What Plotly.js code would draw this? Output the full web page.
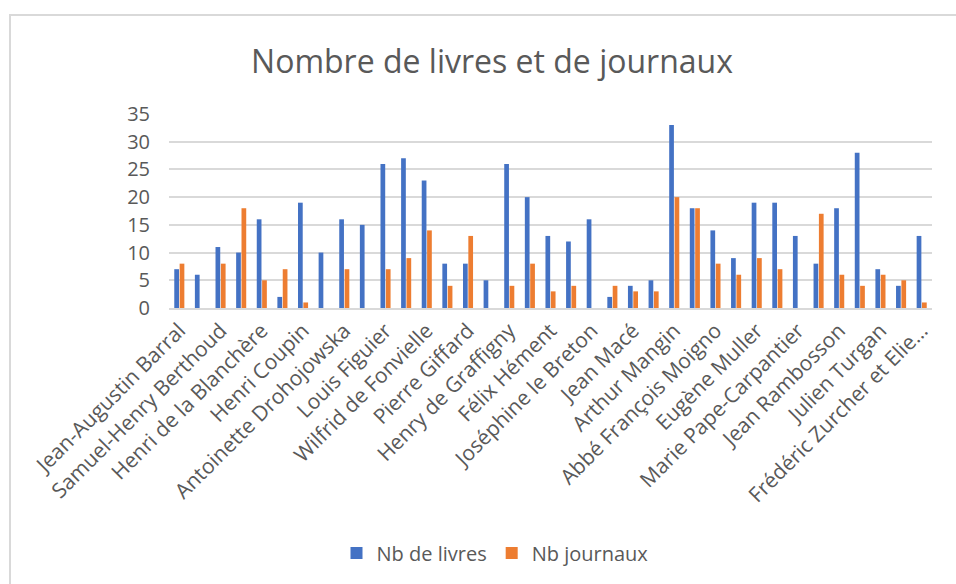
<!DOCTYPE html>
<html>
<head>
<meta charset="utf-8">
<script src="https://cdn.plot.ly/plotly-3.0.1.min.js"></script>
<style>
  html, body { margin: 0; padding: 0; background: #fff; overflow: hidden; }
  #chart { position: absolute; left: 0; top: 0; width: 956px; height: 584px; }
  #frame { position: absolute; left: 9px; top: 14px; width: 1000px; height: 700px;
           border-left: 2px solid #d9d9d9; border-top: 2px solid #d9d9d9; pointer-events: none; }
</style>
</head>
<body>
<div id="chart"></div>
<div id="frame"></div>
<script>
// Categories (every other one is labelled on the axis)
const categories = [
  "Jean-Augustin Barral", "Paul Bert", "Samuel-Henry Berthoud", "Adolphe Bitard",
  "Henri de la Blanchère", "Gaston Bonnier", "Henri Coupin", "Charles Delon",
  "Antoinette Drohojowska", "Jean-Henri Fabre", "Louis Figuier", "Camille Flammarion",
  "Wilfrid de Fonvielle", "Albert Gaudry", "Pierre Giffard", "Louis Gossin",
  "Henry de Graffigny", "Amédée Guillemin", "Félix Hément", "Pierre Larousse",
  "Joséphine le Breton", "Édouard Lucas", "Jean Macé", "Victor Malte-Brun",
  "Arthur Mangin", "Stanislas Meunier", "Abbé François Moigno", "Henri Moissan",
  "Eugène Muller", "Charles Nodier", "Marie Pape-Carpantier", "Henri de Parville",
  "Jean Rambosson", "Gaston Tissandier", "Julien Turgan", "Jules Verne",
  "Frédéric Zurcher et Elie Margollé"
];
const nbLivres = [
  7, 6, 11, 10, 16, 2, 19, 10, 16, 15, 26, 27, 23, 8, 8, 5, 26, 20, 13,
  12, 16, 2, 4, 5, 33, 18, 14, 9, 19, 19, 13, 8, 18, 28, 7, 4, 13
];
const nbJournaux = [
  8, 0, 8, 18, 5, 7, 1, 0, 7, 0, 7, 9, 14, 4, 13, 0, 4, 8, 3,
  4, 0, 4, 3, 3, 20, 18, 8, 6, 9, 7, 0, 17, 6, 4, 6, 5, 1
];
const tickCats = [
  "Jean-Augustin Barral", "Samuel-Henry Berthoud", "Henri de la Blanchère", "Henri Coupin",
  "Antoinette Drohojowska", "Louis Figuier", "Wilfrid de Fonvielle", "Pierre Giffard",
  "Henry de Graffigny", "Félix Hément", "Joséphine le Breton", "Jean Macé",
  "Arthur Mangin", "Abbé François Moigno", "Eugène Muller", "Marie Pape-Carpantier",
  "Jean Rambosson", "Julien Turgan", "Frédéric Zurcher et Elie Margollé"
];
const tickLabels = [
  "Jean-Augustin Barral", "Samuel-Henry Berthoud", "Henri de la Blanchère", "Henri Coupin",
  "Antoinette Drohojowska", "Louis Figuier", "Wilfrid de Fonvielle", "Pierre Giffard",
  "Henry de Graffigny", "Félix Hément", "Joséphine le Breton", "Jean Macé",
  "Arthur Mangin", "Abbé François Moigno", "Eugène Muller", "Marie Pape-Carpantier",
  "Jean Rambosson", "Julien Turgan", "Frédéric Zurcher et Elie…"
];
const yTicks = [0, 5, 10, 15, 20, 25, 30, 35];

const FONT = "'Open Sans', 'Noto Sans', sans-serif";
const GREY = "#595959";

const traces = [
  { type: "bar", name: "Nb de livres", x: categories, y: nbLivres,
    marker: { color: "#4472C4" }, hoverinfo: "x+y+name" },
  { type: "bar", name: "Nb journaux", x: categories, y: nbJournaux,
    marker: { color: "#ED7D31" }, hoverinfo: "x+y+name" }
];

const layout = {
  width: 956, height: 584,
  margin: { l: 169, r: 24, t: 114, b: 276, pad: 0 },
  paper_bgcolor: "rgba(0,0,0,0)",
  plot_bgcolor: "#ffffff",
  font: { family: FONT, color: GREY, size: 20 },
  title: {
    text: "Nombre de livres et de journaux",
    font: { family: FONT, size: 32, color: GREY },
    xref: "container", x: 492 / 956, xanchor: "center",
    yref: "container", y: 1 - 62 / 584, yanchor: "middle"
  },
  barmode: "group",
  bargap: 0.48,
  bargroupgap: 0.12,
  xaxis: {
    type: "category",
    categoryorder: "array", categoryarray: categories,
    tickmode: "array", tickvals: tickCats, ticktext: tickLabels,
    tickangle: -45,
    tickfont: { family: FONT, size: 21, color: GREY },
    showgrid: false, zeroline: false,
    showline: true, linecolor: "#d9d9d9", linewidth: 2,
    ticks: "", automargin: false
  },
  yaxis: {
    range: [0, 35],
    tickmode: "array", tickvals: yTicks,
    tickfont: { family: FONT, size: 20, color: GREY },
    showgrid: true, gridcolor: "#d9d9d9", gridwidth: 2,
    zeroline: false, showline: false, ticks: "",
    ticklabelstandoff: 18, automargin: false
  },
  showlegend: true,
  legend: {
    orientation: "h",
    xref: "paper", x: (495 - 169) / 763, xanchor: "center",
    yref: "paper", y: -(553 - 308) / 194, yanchor: "middle",
    font: { family: FONT, size: 20, color: GREY },
    itemwidth: 30, traceorder: "normal"
  }
};

Plotly.newPlot("chart", traces, layout, { displayModeBar: false, staticPlot: true });
</script>
</body>
</html>
